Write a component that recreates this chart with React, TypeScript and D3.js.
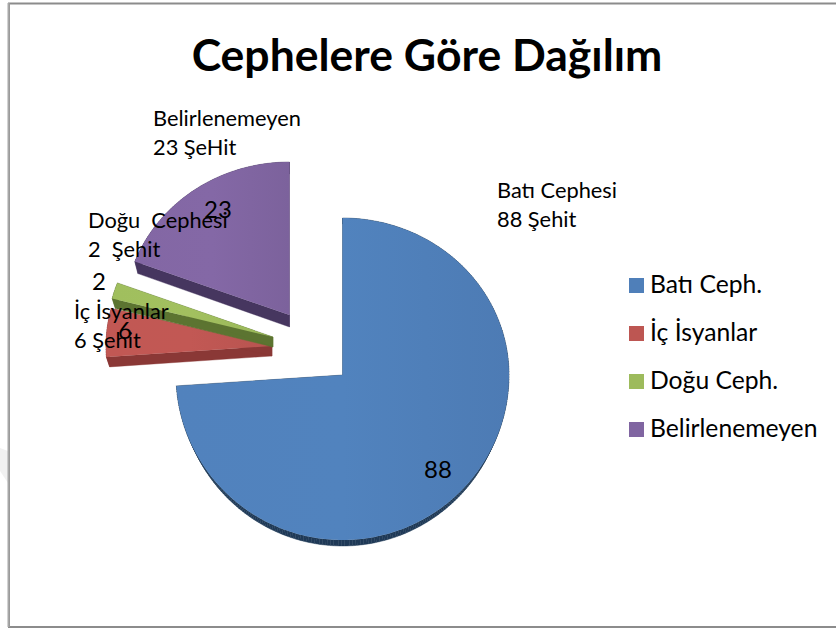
import React from "react";
import * as d3 from "d3";

const categories = ["Batı Ceph.", "İç İsyanlar", "Doğu Ceph.", "Belirlenemeyen"];
const values = [88, 6, 2, 23];
const faceColors = ["#4f7fb9", "#bd5652", "#9dbb5c", "#8065a1"];
const sideColors = ["#1f3957", "#8a3836", "#5c7431", "#46365f"];
const calloutLines = [
  ["Batı Cephesi", "88 Şehit"],
  ["İç İsyanlar", "6 Şehit"],
  ["Doğu  Cephesi", "2  Şehit"],
  ["Belirlenemeyen", "23 ŞeHit"],
];
const titleText = "Cephelere Göre Dağılım";

const FONT = "Lato, 'Open Sans', sans-serif";

const sliceLayout = [
  { cx: 342.5, cy: 375, rx: 166.5, top: 157, bottom: 165, ey: 6 },
  { cx: 272, cy: 346, rx: 166, top: 152, bottom: 165, ey: 10 },
  { cx: 273, cy: 337, rx: 166, top: 155, bottom: 165, ey: 10 },
  { cx: 289.5, cy: 315, rx: 165, top: 153, bottom: 165, ey: 12 },
];
const valuePos = [
  [438, 478, 24],
  [125, 339, 24],
  [99, 290, 24],
  [218, 218, 24],
];
const calloutPos = [
  [497, 198],
  [74, 319],
  [88, 228],
  [153, 126],
];
const legendY = [285, 333, 381, 429];

type P = [number, number];

export default function App() {
  const arcs = d3.pie<number>().sort(null)(values);
  const line = d3.line<P>();

  const outline = (i: number): P[] => {
    const a = arcs[i];
    const s = sliceLayout[i];
    const n = Math.max(8, Math.ceil((a.endAngle - a.startAngle) * 60));
    const angles = d3.range(n + 1).map((k) => a.startAngle + ((a.endAngle - a.startAngle) * k) / n);
    const pts: P[] = angles.map((t) => {
      const c = Math.cos(t);
      return [s.cx + s.rx * Math.sin(t), s.cy - (c > 0 ? s.top : s.bottom) * c];
    });
    return [[s.cx, s.cy], ...pts];
  };

  const order = [3, 1, 2, 0];

  return (
    <svg
      width={836}
      height={628}
      viewBox="0 0 836 628"
      style={{ position: "absolute", left: 0, top: 0, background: "#fff" }}
      fontFamily={FONT}
    >
      <defs>
        {faceColors.map((c, i) => (
          <linearGradient key={i} id={`sheen${i}`} x1="0" y1="0" x2="1" y2="0">
            <stop offset="0" stopColor={d3.color(c)!.brighter(0.06).formatHex()} />
            <stop offset="0.5" stopColor={d3.color(c)!.brighter(0.08).formatHex()} />
            <stop offset="1" stopColor={d3.color(c)!.darker(0.08).formatHex()} />
          </linearGradient>
        ))}
      </defs>

      <path d="M0 448L8 451V483L0 471Z" fill="#f1f1f1" />
      <path d="M836 3.5H9V627H836" fill="none" stroke="#8c8c8c" strokeWidth={2} />
      <line x1={8.5} x2={8.5} y1={3} y2={627} stroke="#a8a8a8" strokeWidth={2} />

      <text x={427} y={71} textAnchor="middle" fontSize={44.5} fontWeight={700} fill="#000">
        {titleText}
      </text>

      {order.map((i) => {
        const pts = outline(i);
        const s = sliceLayout[i];
        const shifted: P[] = pts.map(([x, y]) => [x + (s.cx - x) * 0.02, y + s.ey]);
        return (
          <g key={categories[i]}>
            {pts.map((p, k) => {
              const m = (k + 1) % pts.length;
              return (
                <path
                  key={k}
                  d={line([p, pts[m], shifted[m], shifted[k]]) + "Z"}
                  fill={sideColors[i]}
                  stroke={sideColors[i]}
                  strokeWidth={0.4}
                />
              );
            })}
            <path d={line(pts) + "Z"} fill={`url(#sheen${i})`} />
          </g>
        );
      })}

      {values.map((v, i) => (
        <text
          key={i}
          x={valuePos[i][0]}
          y={valuePos[i][1]}
          textAnchor="middle"
          fontSize={valuePos[i][2]}
          fill="#000"
        >
          {v}
        </text>
      ))}

      {calloutLines.map((ls, i) => (
        <text key={i} fontSize={21.8} fill="#000">
          {ls.map((l, k) => (
            <tspan key={k} x={calloutPos[i][0]} y={calloutPos[i][1] + k * 29} style={{ whiteSpace: "pre" }}>
              {l}
            </tspan>
          ))}
        </text>
      ))}

      {categories.map((c, i) => (
        <g key={c}>
          <rect x={629} y={legendY[i] - 7} width={15} height={15} fill={faceColors[i]} />
          <text x={650} y={legendY[i] + 8} fontSize={24.7} fill="#000">
            {c}
          </text>
        </g>
      ))}
    </svg>
  );
}
